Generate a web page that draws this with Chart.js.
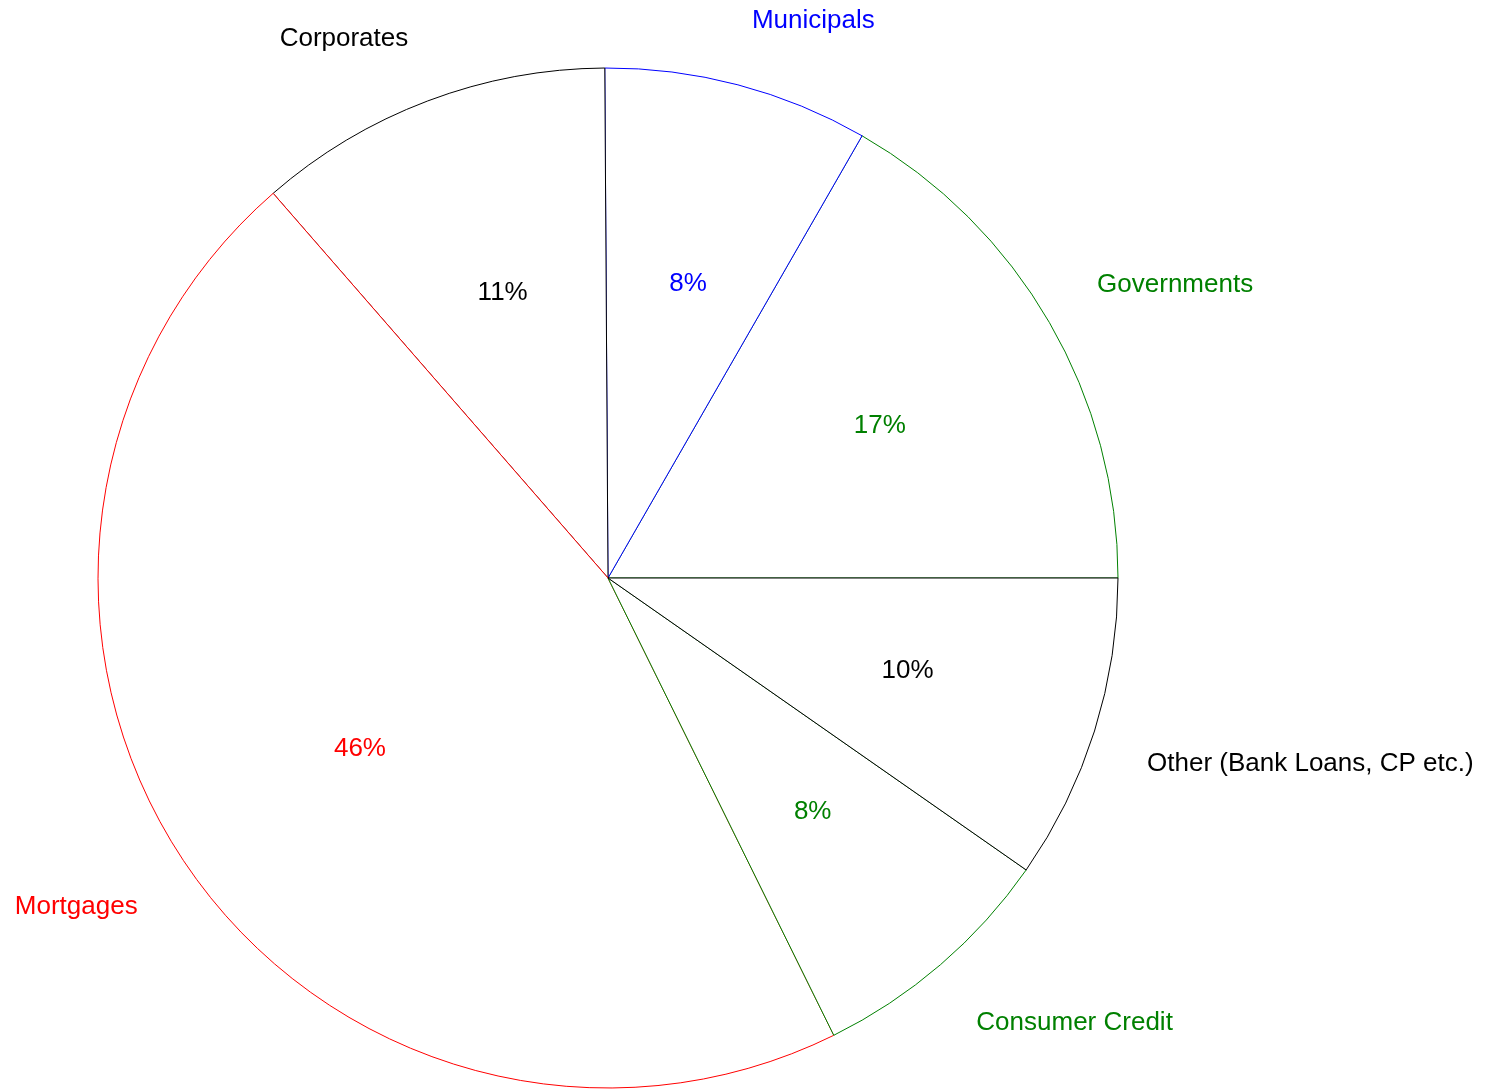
<!DOCTYPE html>
<html>
<head>
<meta charset="utf-8">
<script src="https://cdn.jsdelivr.net/npm/chart.js@4/dist/chart.umd.min.js"></script>
<style>
  html, body { margin: 0; padding: 0; background: #fff; }
  #wrap { width: 1494px; height: 1089px; }
</style>
</head>
<body>
<div id="wrap"><canvas id="chart"></canvas></div>
<script>
// clockwise from 3 o'clock
const categories = ['Other (Bank Loans, CP etc.)', 'Consumer Credit', 'Mortgages', 'Corporates', 'Municipals', 'Governments'];
const shares = [9.7, 8.0, 45.9, 11.3, 8.4, 16.7];
const pctLabels = ['10%', '8%', '46%', '11%', '8%', '17%'];
const colors = ['#000000', '#008000', '#ff0000', '#000000', '#0000ff', '#008000'];

// the original draws its slices counterclockwise, so later slices paint over the shared edges
const reverseDraw = {
    id: 'reverseDraw',
    beforeDatasetDraw: function(chart, args) {
        const area = chart.chartArea;
        args.meta.data.slice().reverse().forEach(function(arc) {
            arc.draw(chart.ctx, area);
        });
        return false;
    }
};

const labelPlugin = {
    id: 'sliceLabels',
    afterDatasetsDraw: function(chart) {
        const ctx = chart.ctx;
        const meta = chart.getDatasetMeta(0);
        ctx.save();
        ctx.font = '26px "Liberation Sans", Arial, sans-serif';
        ctx.textBaseline = 'middle';
        meta.data.forEach(function(arc, i) {
            const p = arc.getProps(['x', 'y', 'startAngle', 'endAngle', 'outerRadius'], true);
            const mid = (p.startAngle + p.endAngle) / 2;
            const c = Math.cos(mid), s = Math.sin(mid);
            ctx.fillStyle = colors[i];
            // percent inside
            ctx.textAlign = 'center';
            ctx.fillText(pctLabels[i], p.x + c * p.outerRadius * 0.6 + 8 * Math.abs(c), p.y + s * p.outerRadius * 0.6 + 1.5);
            // category outside
            const r = p.outerRadius * 1.108;
            ctx.textAlign = c >= 0 ? 'left' : 'right';
            ctx.fillText(categories[i], p.x + c * r, p.y + s * r + (s < 0 ? -10.5 : 16));
        });
        ctx.restore();
    }
};

const ctx = document.getElementById('chart').getContext('2d');
const myChart = new Chart(ctx, {
    type: 'pie',
    data: {
        labels: categories,
        datasets: [{
            data: shares,
            backgroundColor: '#ffffff',
            borderColor: colors,
            borderWidth: 1
        }]
    },
    options: {
        responsive: true,
        maintainAspectRatio: false,
        animation: false,
        rotation: 90,
        radius: 510,
        layout: { padding: { left: 0, right: 278, top: 67, bottom: 0 } },
        plugins: {
            legend: { display: false },
            tooltip: { enabled: false }
        }
    },
    plugins: [reverseDraw, labelPlugin]
});
</script>
</body>
</html>
